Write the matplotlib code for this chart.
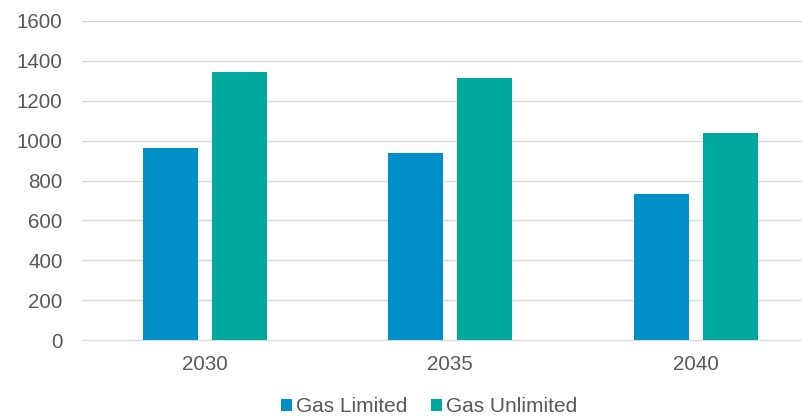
import numpy as np
import matplotlib.pyplot as plt

plt.rcParams['font.family'] = ['Liberation Sans', 'DejaVu Sans']

years = ["2030", "2035", "2040"]
gas_limited = [963, 937, 732]
gas_unlimited = [1342, 1313, 1037]

blue = "#0090C8"
teal = "#00A99D"
grey = "#595959"

fig = plt.figure(figsize=(8.03, 4.16), dpi=100)
ax = fig.add_axes([82 / 803, 1 - 340 / 416, 721 / 803, 319 / 416])

x = np.arange(len(years))
w = 0.224
ax.bar(x - 0.141, gas_limited, w, color=blue, label="Gas Limited", zorder=3)
ax.bar(x + 0.141, gas_unlimited, w, color=teal, label="Gas Unlimited", zorder=3)

ax.set_xlim(-0.5, 2.437)
ax.set_ylim(0, 1600)
ax.set_yticks(range(0, 1601, 200))
ax.set_xticks(x)
ax.set_xticklabels(years)
ax.grid(axis="y", color="#d9d9d9", linewidth=1, zorder=0)

for s in ["top", "right", "left"]:
    ax.spines[s].set_visible(False)
ax.spines["bottom"].set_color("#d9d9d9")
ax.tick_params(axis="both", length=0, colors=grey, labelsize=14.8)
ax.tick_params(axis="x", pad=11)
ax.tick_params(axis="y", pad=14)

fig.legend(loc="center", bbox_to_anchor=(429 / 803, 1 - 407 / 416), ncol=2,
           frameon=False, fontsize=15, labelcolor=grey, handlelength=0.55,
           handleheight=0.55, handletextpad=0.2, columnspacing=1.1)

fig.savefig("out.png", dpi=100)
